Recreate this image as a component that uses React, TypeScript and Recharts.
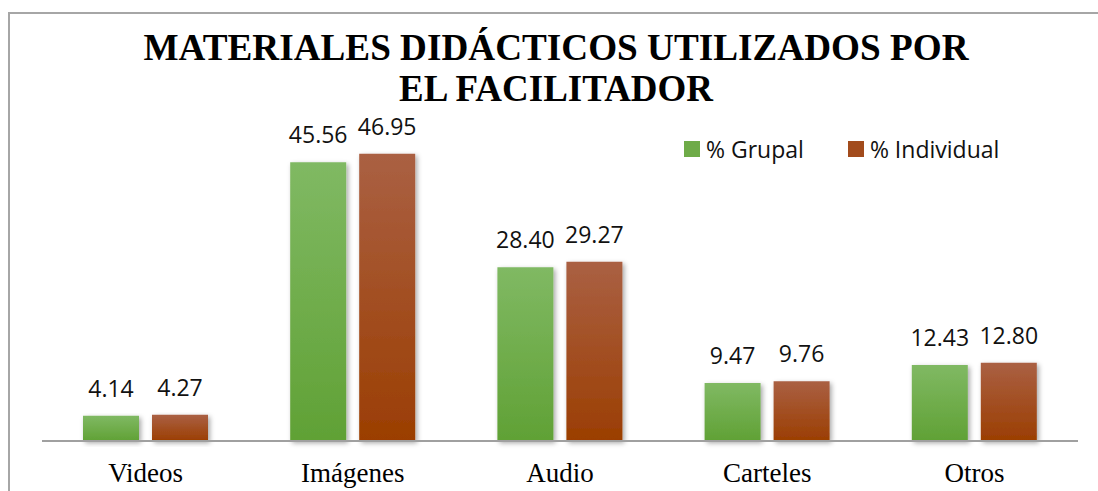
import { BarChart, Bar, XAxis, YAxis, LabelList } from 'recharts';

const categories = ['Videos', 'Imágenes', 'Audio', 'Carteles', 'Otros'];
const grupal = [4.14, 45.56, 28.4, 9.47, 12.43];
const individual = [4.27, 46.95, 29.27, 9.76, 12.8];
const seriesNames = ['% Grupal', '% Individual'];
const titleLines = ['MATERIALES DIDÁCTICOS UTILIZADOS POR', 'EL FACILITADOR'];

const data = categories.map((name, i) => ({
  name,
  grupal: grupal[i],
  individual: individual[i],
}));

const legendItems = [
  { label: seriesNames[0], color: '#6eab48' },
  { label: seriesNames[1], color: '#a24b1c' },
];

function ChartLegend() {
  return (
    <div style={{ position: 'absolute', left: 684, top: 137, display: 'flex', alignItems: 'center', fontFamily: '"Open Sans", sans-serif', fontSize: 23, color: '#111' }}>
      {legendItems.map((item, i) => (
        <div key={item.label} style={{ display: 'flex', alignItems: 'center', marginLeft: i === 0 ? 0 : 44 }}>
          <span style={{ width: 16, height: 16, background: item.color, display: 'inline-block', marginRight: 6 }} />
          <span style={{ lineHeight: '24px' }}>{item.label}</span>
        </div>
      ))}
    </div>
  );
}

const fmt = (v: number) => v.toFixed(2);

export default function App() {
  return (
    <div style={{ position: 'absolute', left: 0, top: 0, width: 1098, height: 491, background: '#fff', overflow: 'hidden' }}>
      <svg width={1098} height={491} style={{ position: 'absolute', left: 0, top: 0 }}>
        <line x1={9} y1={13} x2={1098} y2={13} stroke="#a6a6a6" strokeWidth={2} />
        <line x1={9} y1={12} x2={9} y2={491} stroke="#a6a6a6" strokeWidth={2} />
        <text x={556} y={60} textAnchor="middle" fontFamily='"Liberation Serif", serif' fontWeight="bold" fontSize={37}
          textLength={825} lengthAdjust="spacingAndGlyphs">
          {titleLines[0]}
        </text>
        <text x={556} y={101} textAnchor="middle" fontFamily='"Liberation Serif", serif' fontWeight="bold" fontSize={37}
          textLength={314} lengthAdjust="spacingAndGlyphs">
          {titleLines[1]}
        </text>
      </svg>
      <div style={{ position: 'absolute', left: 0, top: 0 }}>
        <BarChart width={1098} height={491} data={data} margin={{ top: 135, right: 20, bottom: 0, left: 42 }}
          barSize={56} barGap={13}>
          <defs>
            <linearGradient id="gGreen" x1="0" y1="0" x2="0" y2="1">
              <stop offset="0%" stopColor="#80b963" />
              <stop offset="100%" stopColor="#60a135" />
            </linearGradient>
            <linearGradient id="gRed" x1="0" y1="0" x2="0" y2="1">
              <stop offset="0%" stopColor="#aa6043" />
              <stop offset="100%" stopColor="#9b3e02" />
            </linearGradient>
            <filter id="shadow" x="-20%" y="-10%" width="140%" height="130%">
              <feDropShadow dx={2} dy={2} stdDeviation={2.5} floodColor="#000" floodOpacity={0.35} />
            </filter>
          </defs>
          <XAxis dataKey="name" height={50} tickLine={false} axisLine={{ stroke: '#a0a0a0', strokeWidth: 2 }}
            tickMargin={16} interval={0}
            tick={{ fontFamily: '"Liberation Serif", serif', fontSize: 27, fill: '#000' }} />
          <YAxis hide domain={[0, 50]} />
          <Bar dataKey="grupal" name={seriesNames[0]} fill="url(#gGreen)" filter="url(#shadow)" isAnimationActive={false}>
            <LabelList dataKey="grupal" position="top" offset={19} formatter={(v: any) => fmt(Number(v))}
              style={{ fontFamily: '"Open Sans", sans-serif', fontSize: 23, fill: '#111' }} />
          </Bar>
          <Bar dataKey="individual" name={seriesNames[1]} fill="url(#gRed)" filter="url(#shadow)" isAnimationActive={false}>
            <LabelList dataKey="individual" position="top" offset={19} formatter={(v: any) => fmt(Number(v))}
              style={{ fontFamily: '"Open Sans", sans-serif', fontSize: 23, fill: '#111' }} />
          </Bar>
        </BarChart>
      </div>
      <ChartLegend />
    </div>
  );
}
